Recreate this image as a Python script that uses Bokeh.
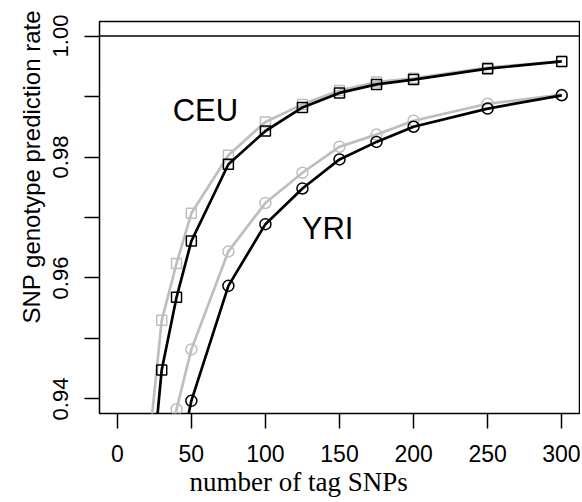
from bokeh.plotting import figure
from bokeh.models import Range1d, FixedTicker, PrintfTickFormatter, Span, Label, Title
from bokeh.embed import file_html
from bokeh.resources import INLINE

# number of tag SNPs
ceu_x = [20, 30, 40, 50, 75, 100, 125, 150, 175, 200, 250, 300]
ceu_black = [0.919, 0.9448, 0.9568, 0.9661, 0.9788, 0.9843, 0.9882, 0.9906, 0.9920, 0.9928, 0.9946, 0.9958]
ceu_gray = [0.929, 0.9530, 0.9624, 0.9707, 0.9803, 0.9858, 0.9887, 0.9910, 0.9924, 0.9930, 0.9948, 0.9958]

yri_x = [30, 40, 50, 75, 100, 125, 150, 175, 200, 250, 300]
yri_black = [0.915, 0.928, 0.9397, 0.9587, 0.9689, 0.9748, 0.9796, 0.9825, 0.9850, 0.9880, 0.9902]
yri_gray = [0.925, 0.9383, 0.9482, 0.9644, 0.9724, 0.9774, 0.9817, 0.9837, 0.9860, 0.9888, 0.9903]

x_ticks = [0, 50, 100, 150, 200, 250, 300]
y_ticks = [0.94, 0.96, 0.98, 1.00]
y_minor_ticks = [0.95, 0.97, 0.99]

x_title = "number of tag SNPs"
y_title = "SNP genotype prediction rate"

GRAY = "#BEBEBE"

p = figure(width=580, height=502, output_backend="svg", toolbar_location=None,
           x_range=Range1d(-12, 312), y_range=Range1d(0.9376, 1.0024),
           min_border_left=99, min_border_right=1, min_border_top=21, min_border_bottom=89)
p.grid.visible = False
p.outline_line_color = "black"
p.outline_line_width = 1.5
p.background_fill_color = "white"
p.border_fill_color = "white"

# axes
xa = p.xaxis[0]
xa.ticker = FixedTicker(ticks=x_ticks, minor_ticks=[])
xa.axis_line_color = None
xa.major_tick_out = 15
xa.major_tick_in = 0
xa.major_tick_line_width = 1.5
xa.major_tick_line_color = "black"
xa.major_label_text_font = "Liberation Sans"
xa.major_label_text_font_size = "23px"
xa.major_label_text_color = "black"
xa.major_label_standoff = 16

ya = p.yaxis[0]
ya.ticker = FixedTicker(ticks=y_ticks, minor_ticks=y_minor_ticks)
ya.formatter = PrintfTickFormatter(format="%.2f")
ya.axis_line_color = None
ya.major_tick_out = 15
ya.major_tick_in = 0
ya.minor_tick_out = 15
ya.minor_tick_in = 0
ya.major_tick_line_width = 1.5
ya.minor_tick_line_width = 1.5
ya.major_tick_line_color = "black"
ya.minor_tick_line_color = "black"
ya.major_label_orientation = "parallel"
ya.major_label_text_font = "Liberation Sans"
ya.major_label_text_font_size = "22px"
ya.major_label_text_color = "black"
ya.major_label_standoff = 16

# axis titles as side-panel titles (placed off-centre as in the reference)
p.add_layout(Title(text=x_title, align="left", offset=90, standoff=0, vertical_align="bottom",
                   text_font="Liberation Serif", text_font_size="27px",
                   text_font_style="normal", text_color="black"), "below")
p.add_layout(Title(text=y_title, align="left", offset=90, standoff=12, vertical_align="bottom",
                   text_font="Liberation Sans", text_font_size="24px",
                   text_font_style="normal", text_color="black"), "left")

# reference line at 1
p.add_layout(Span(location=1.0, dimension="width", line_color="black", line_width=1.5))

# gray series
p.line(ceu_x, ceu_gray, line_color=GRAY, line_width=2.7)
p.scatter(ceu_x, ceu_gray, marker="square", size=10, fill_color=None, line_color=GRAY, line_width=1.5)
p.line(yri_x, yri_gray, line_color=GRAY, line_width=2.7)
p.scatter(yri_x, yri_gray, marker="circle", size=11, fill_color=None, line_color=GRAY, line_width=1.5)

# black series
p.line(ceu_x, ceu_black, line_color="black", line_width=2.7)
p.scatter(ceu_x, ceu_black, marker="square", size=10, fill_color=None, line_color="black", line_width=1.5)
p.line(yri_x, yri_black, line_color="black", line_width=2.7)
p.scatter(yri_x, yri_black, marker="circle", size=11, fill_color=None, line_color="black", line_width=1.5)

# annotations
p.add_layout(Label(x=59.5, y=0.9877, text="CEU", text_align="center", text_baseline="middle",
                   text_font="Liberation Sans", text_font_size="31px", text_color="black"))
p.add_layout(Label(x=142, y=0.9681, text="YRI", text_align="center", text_baseline="middle",
                   text_font="Liberation Sans", text_font_size="31px", text_color="black"))

open("out.html", "w").write(file_html(p, INLINE))
